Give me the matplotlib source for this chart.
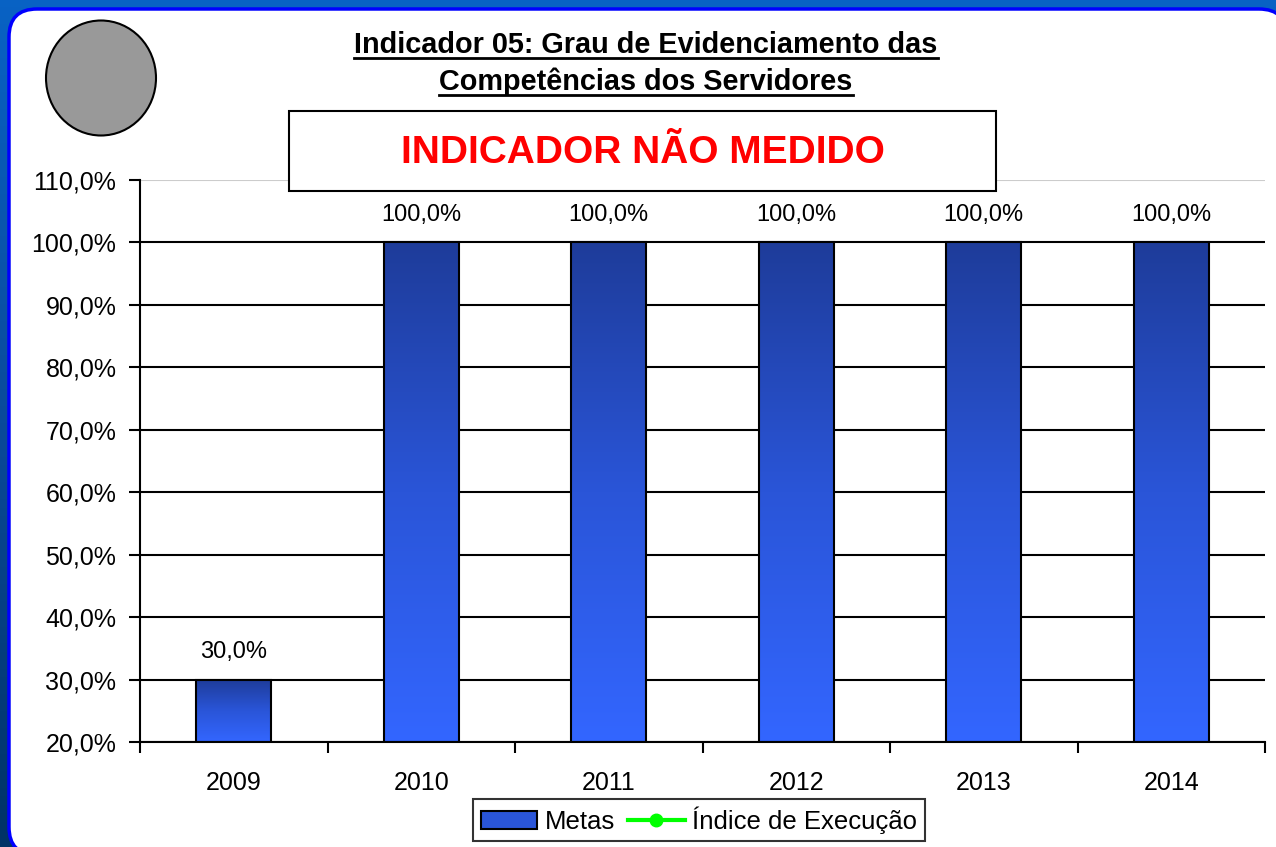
import numpy as np
import matplotlib
matplotlib.use("Agg")
import matplotlib.pyplot as plt
from matplotlib.patches import FancyBboxPatch, Ellipse, Rectangle, Patch
from matplotlib.lines import Line2D
from matplotlib.colors import LinearSegmentedColormap

plt.rcParams['font.family'] = ['Liberation Sans', 'DejaVu Sans']

anos = ['2009', '2010', '2011', '2012', '2013', '2014']
metas = [30.0, 100.0, 100.0, 100.0, 100.0, 100.0]
yticks = [20, 30, 40, 50, 60, 70, 80, 90, 100, 110]

def pct(v):
    return f"{v:.1f}".replace('.', ',') + '%'

W, H = 1276, 847
fig = plt.figure(figsize=(W / 100, H / 100), dpi=100)
fig.patch.set_facecolor('#0a5fc2')

# background frame: blue on top, darkening towards the bottom-left
bg = fig.add_axes([0, 0, 1, 1], zorder=-10)
bg.set_axis_off()
fundo = LinearSegmentedColormap.from_list('fundo', ['#0862c4', '#0a4a9a', '#003366'])
bg.imshow(np.linspace(0, 1, 100).reshape(-1, 1), cmap=fundo, aspect='auto',
          extent=(0, 1, 0, 1), origin='upper')
bg.set_xlim(0, 1)
bg.set_ylim(0, 1)
# white panel with rounded corners
panel = FancyBboxPatch((9 / W, -8 / H), (W + 2) / W, (H - 9 + 8) / H,
                       boxstyle="round,pad=0,rounding_size=0.022",
                       transform=fig.transFigure, facecolor='white',
                       edgecolor='#0000ff', linewidth=2.5,
                       mutation_aspect=W / H)
bg.add_patch(panel)

# grey status circle
fig.add_artist(Ellipse((101 / W, 1 - 78 / H), 110 / W, 115 / H,
                       transform=fig.transFigure, facecolor='#999999',
                       edgecolor='black', linewidth=1.5, zorder=2))

ax = fig.add_axes([140 / W, 1 - 742 / H, (1265 - 140) / W, (742 - 180) / H], zorder=1)
ax.set_facecolor('none')

for y in yticks:
    ax.axhline(y, color='#cccccc' if y == 110 else 'black',
               linewidth=1.5, zorder=1)

cmap = LinearSegmentedColormap.from_list('barra', ['#1e3c9a', '#2a55d8', '#3366ff'])
grad = np.linspace(0, 1, 256).reshape(-1, 1)
bw = 0.4
for i, v in enumerate(metas):
    ax.imshow(grad, cmap=cmap, aspect='auto', extent=(i - bw / 2, i + bw / 2, 20, v),
              origin='upper', zorder=2, interpolation='bilinear')
    ax.add_patch(Rectangle((i - bw / 2, 20), bw, v - 20, facecolor='none',
                           edgecolor='black', linewidth=1.5, zorder=3))
    ax.text(i, v + 4.4, pct(v), ha='center', va='center', fontsize=17, zorder=4)
ax.set_xlim(-0.5, 5.5)
ax.set_ylim(20, 110)

ax.set_yticks(yticks)
ax.set_yticklabels([pct(y) for y in yticks], fontsize=18)
ax.set_xticks(range(len(anos)))
ax.set_xticklabels(anos, fontsize=18)
ax.set_xticks(np.arange(-0.5, 6), minor=True)
ax.tick_params(axis='x', which='major', length=0, pad=21)
ax.tick_params(axis='x', which='minor', length=8, width=1.5, direction='out')
ax.tick_params(axis='y', length=8, width=1.5, direction='out', pad=9)
for s in ['top', 'right']:
    ax.spines[s].set_visible(False)
for s in ['left', 'bottom']:
    ax.spines[s].set_linewidth(1.5)
    ax.spines[s].set_zorder(5)

# title (underlined)
t1 = fig.text(646 / W, 1 - 45 / H, 'Indicador 05: Grau de Evidenciamento das',
              ha='center', va='center', fontsize=20.8, fontweight='bold')
t2 = fig.text(646 / W, 1 - 82 / H, 'Competências dos Servidores',
              ha='center', va='center', fontsize=20.8, fontweight='bold')

# status box
fig.add_artist(Rectangle((289 / W, 1 - 191 / H), (996 - 289) / W, 80 / H,
                         transform=fig.transFigure, facecolor='white',
                         edgecolor='black', linewidth=1.5, zorder=6))
fig.text(643 / W, 1 - 153 / H, 'INDICADOR NÃO MEDIDO', ha='center', va='center',
         fontsize=28, fontweight='bold', color='#ff0000', zorder=7)

handles = [Patch(facecolor='#2a55d8', edgecolor='black', linewidth=1.5),
           Line2D([], [], color='#00ff00', linewidth=3, marker='o', markersize=9)]
leg = fig.legend(handles, ['Metas', 'Índice de Execução'], loc='center',
                 bbox_to_anchor=(699 / W, 1 - 820 / H), ncol=2, fontsize=18.5,
                 frameon=True, fancybox=False, handlelength=2.2,
                 columnspacing=0.5, handletextpad=0.3, borderpad=0.3)
leg.get_frame().set_edgecolor('black')
leg.get_frame().set_linewidth(1.5)

fig.canvas.draw()
r = fig.canvas.get_renderer()
for t in (t1, t2):
    bb = t.get_window_extent(r).transformed(fig.transFigure.inverted())
    fig.add_artist(Line2D([bb.x0, bb.x1], [bb.y0 + 0.001, bb.y0 + 0.001],
                          transform=fig.transFigure, color='black', linewidth=2))

fig.savefig('out.png', dpi=100, facecolor=fig.get_facecolor())
